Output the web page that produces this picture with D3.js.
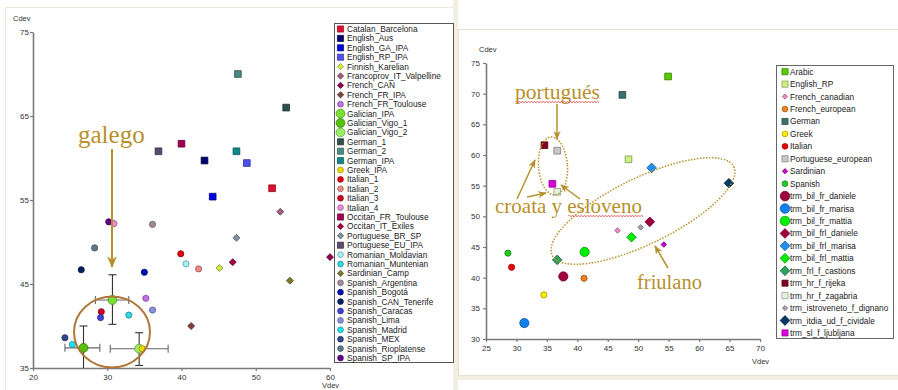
<!DOCTYPE html>
<html><head><meta charset="utf-8">
<script src="https://cdn.jsdelivr.net/npm/d3@7"></script>
<style>body{margin:0;background:#fff}svg{display:block}</style>
</head><body><svg id="c" width="898" height="390"></svg>
<script>
// ---------- LEFT CHART DATA ----------
const leftSeries = ["Catalan_Barcelona","English_Aus","English_GA_IPA","English_RP_IPA","Finnish_Karelian","Francoprov_IT_Valpelline","French_CAN","French_FR_IPA","French_FR_Toulouse","Galician_IPA","Galician_Vigo_1","Galician_Vigo_2","German_1","German_2","German_IPA","Greek_IPA","Italian_1","Italian_2","Italian_3","Italian_4","Occitan_FR_Toulouse","Occitan_IT_Exiles","Portuguese_BR_SP","Portuguese_EU_IPA","Romanian_Moldavian","Romanian_Muntenian","Sardinian_Camp","Spanish_Argentina","Spanish_Bogotá","Spanish_CAN_Tenerife","Spanish_Caracas","Spanish_Lima","Spanish_Madrid","Spanish_MEX","Spanish_Rioplatense","Spanish_SP_IPA"];
const leftVdev = [52.2,43.1,44.2,48.8,45.1,53.3,60.0,41.3,35.2,30.7,26.8,34.3,54.1,47.6,47.4,34.7,39.9,42.3,29.2,30.9,40.0,46.9,47.4,36.9,40.6,32.9,54.6,36.1,35.0,26.5,29.1,36.1,25.3,24.3,28.3,30.2];
const leftCdev = [56.4,59.7,55.4,59.4,46.9,53.6,48.2,40.0,43.3,43.1,37.4,37.3,66.0,70.0,60.8,37.3,48.6,46.8,41.7,52.2,61.7,47.6,50.5,60.8,47.4,41.3,45.4,52.1,46.4,46.7,41.0,41.9,37.8,38.6,49.3,52.4];
// Galician error bars (Vdev low/high, Cdev low/high)
const galSeries = ["Galician_IPA","Galician_Vigo_1","Galician_Vigo_2"];
const galVlo = [28.4,24.3,30.4];
const galVhi = [32.9,29.0,38.2];
const galClo = [40.2,35.0,35.3];
const galChi = [46.1,40.0,39.2];
const leftXTicks = [20,30,40,50,60];
const leftYTicks = [35,45,55,65,75];

// ---------- RIGHT CHART DATA ----------
const rightSeries = ["Arabic","English_RP","French_canadian","French_european","German","Greek","Italian","Portuguese_european","Sardinian","Spanish","trm_bil_fr_daniele","trm_bil_fr_marisa","trm_bil_fr_mattia","trm_bil_frl_daniele","trm_bil_frl_marisa","trm_bil_frl_mattia","trm_frl_f_castions","trm_hr_f_rijeka","trm_hr_f_zagabria","trm_istroveneto_f_dignano","trm_itdia_ud_f_cividale","trm_sl_f_ljubljana"];
const rightVdev = [54.9,48.4,46.6,41.1,47.4,34.5,29.2,36.7,54.2,28.6,37.7,31.3,41.2,51.9,52.2,48.9,36.7,34.6,36.7,50.4,64.9,35.9];
const rightCdev = [72.8,59.3,47.7,39.9,69.8,37.2,41.7,60.7,45.4,44.0,40.2,32.6,44.2,49.1,57.9,46.6,42.9,61.6,54.0,48.2,55.4,55.3];
const rightXTicks = [25,30,35,40,45,50,55,60,65,70];
const rightYTicks = [30,35,40,45,50,55,60,65,70,75];

// ---------- STYLES (separate from data) ----------
const leftShape = ["sq","sq","sq","sq","dm","dm","dm","dm","ci","gc","gc","gc","sq","sq","sq","ci","ci","ci","ci","ci","sq","dm","dm","sq","ci","ci","dm","ci","ci","ci","ci","ci","ci","ci","ci","ci"];
const leftColor = ["#dd1030","#000070","#0000dd","#5050ee","#ccee44","#a06080","#900050","#804040","#c070e8","#77e030","#55c010","#99ee66","#2f4f4f","#4a8a84","#108888","#eedd00","#e00010","#f08888","#cc0020","#ee88dd","#a00050","#a00040","#8090a0","#5a4a70","#a0f0f0","#30d8e0","#7a7a30","#a08c98","#0010b0","#002060","#4040d8","#8890e0","#20e0f0","#304890","#607888","#600088"];
const rightShape = ["sq","sq","sd","ci","sq","ci","ci","sq","sd","ci","bc","bc","bc","bd","bd","bd","bd","sq","sq","sd","bd","sq"];
const rightColor = ["#55cc00","#ccf080","#f088c8","#f08020","#3a7070","#ffee00","#ee0000","#c8c8c8","#cc00cc","#22cc22","#a00040","#1080f0","#00ee00","#a00040","#2090f0","#00ee00","#30a060","#800020","#e4f2dc","#a8a0b0","#003a6a","#dd00dd"];

const svg = d3.select("#c");
const FONT = "Liberation Sans, Arial, sans-serif";
const SERIF = "Liberation Serif, Times New Roman, serif";
const GOLD = "#b8902c";

// ---------- panel frames ----------
svg.append("rect").attr("x",0).attr("y",0).attr("width",898).attr("height",390).attr("fill","#fff");
svg.append("rect").attr("x",453).attr("y",0).attr("width",5).attr("height",390).attr("fill","#f2eee2");
svg.append("path").attr("d","M5.5,390 V7.5 H453").attr("fill","none").attr("stroke","#ebe6d6");
svg.append("rect").attr("x",458.5).attr("y",29.5).attr("width",440).attr("height",346).attr("fill","#fff").attr("stroke","#e6e0cc");
svg.append("rect").attr("x",458).attr("y",376).attr("width",440).attr("height",4).attr("fill","#f2eee2");

function symPath(shape){
  const m = {sq:[d3.symbolSquare,45,0], ci:[d3.symbolCircle,30,0], dm:[d3.symbolSquare,24,45], gc:[d3.symbolCircle,62,0],
             sd:[d3.symbolSquare,15,45], bc:[d3.symbolCircle,66,0], bd:[d3.symbolSquare,46,45]}[shape];
  return {d: d3.symbol().type(m[0]).size(m[1])(), rot: m[2]};
}
function legendSym(shape){
  const m = {sq:[d3.symbolSquare,38,0], ci:[d3.symbolCircle,26,0], dm:[d3.symbolSquare,20,45], gc:[d3.symbolCircle,62,0],
             sd:[d3.symbolSquare,14,45], bc:[d3.symbolCircle,72,0], bd:[d3.symbolSquare,48,45]}[shape];
  return {d: d3.symbol().type(m[0]).size(m[1])(), rot: m[2]};
}
function styleAxis(g){
  g.select(".domain").attr("stroke","#7a7a7a").attr("stroke-width",1.6);
  g.selectAll(".tick line").attr("stroke","#7a7a7a").attr("stroke-width",1.2);
  g.selectAll(".tick text").attr("fill","#333").style("font-family",FONT).style("font-size","8px");
}

// arrow marker
const defs = svg.append("defs");
defs.append("marker").attr("id","arr").attr("viewBox","0 0 10 10").attr("refX",9).attr("refY",5)
  .attr("markerWidth",6).attr("markerHeight",6).attr("orient","auto")
  .append("path").attr("d","M0,1 L10,5 L0,9 L3,5 z").attr("fill",GOLD);

// ---------- LEFT CHART ----------
const xL = d3.scaleLinear([20,60],[33,330]);
const yL = d3.scaleLinear([35,75],[368,32]);
svg.append("g").attr("transform","translate(0,368)")
  .call(d3.axisBottom(xL).tickValues(leftXTicks).tickSize(3).tickSizeOuter(0).tickPadding(3)).call(styleAxis);
svg.append("g").attr("transform","translate(33,0)")
  .call(d3.axisLeft(yL).tickValues(leftYTicks).tickSize(3).tickSizeOuter(0).tickPadding(1)).call(styleAxis);
svg.append("text").attr("x",13).attr("y",21).text("Cdev").style("font-family",FONT).style("font-size","7.5px").attr("fill","#333");
svg.append("text").attr("x",322).attr("y",388).text("Vdev").style("font-family",FONT).style("font-size","7.5px").attr("fill","#333");

// error bars
const eb = svg.append("g").attr("stroke","#333").attr("stroke-width",1.1);
galSeries.forEach((s,i)=>{
  const k = leftSeries.indexOf(s);
  const cx = xL(leftVdev[k]), cy = yL(leftCdev[k]);
  eb.append("line").attr("x1",cx).attr("x2",cx).attr("y1",yL(galClo[i])).attr("y2",yL(galChi[i]));
  eb.append("line").attr("x1",cx-4).attr("x2",cx+4).attr("y1",yL(galChi[i])).attr("y2",yL(galChi[i]));
  if (galClo[i] > 35.05) eb.append("line").attr("x1",cx-4).attr("x2",cx+4).attr("y1",yL(galClo[i])).attr("y2",yL(galClo[i]));
  eb.append("line").attr("x1",xL(galVlo[i])).attr("x2",xL(galVhi[i])).attr("y1",cy).attr("y2",cy).attr("stroke","#666");
  eb.append("line").attr("x1",xL(galVlo[i])).attr("x2",xL(galVlo[i])).attr("y1",cy-4).attr("y2",cy+4).attr("stroke","#666");
  eb.append("line").attr("x1",xL(galVhi[i])).attr("x2",xL(galVhi[i])).attr("y1",cy-4).attr("y2",cy+4).attr("stroke","#666");
});

svg.append("g").selectAll("path").data(leftSeries).join("path")
  .attr("d",(d,i)=>symPath(leftShape[i]).d)
  .attr("transform",(d,i)=>`translate(${xL(leftVdev[i])},${yL(leftCdev[i])}) rotate(${symPath(leftShape[i]).rot})`)
  .attr("fill",(d,i)=>leftColor[i])
  .attr("stroke",(d,i)=>d3.color(leftColor[i]).darker(1.3)).attr("stroke-width",0.8);

// left legend
const lg = svg.append("g");
lg.append("rect").attr("x",334.5).attr("y",23.5).attr("width",119).attr("height",339).attr("fill","#fff").attr("stroke","#555");
leftSeries.forEach((s,i)=>{
  const y = 29 + i*9.4;
  const m = legendSym(leftShape[i]);
  lg.append("path").attr("d",m.d).attr("transform",`translate(340.5,${y}) rotate(${m.rot})`)
    .attr("fill",leftColor[i]).attr("stroke",d3.color(leftColor[i]).darker(1.3)).attr("stroke-width",0.7);
  lg.append("text").attr("x",347).attr("y",y+3).text(s).style("font-family",FONT).style("font-size","8.3px").attr("fill","#222");
});

// left annotations
svg.append("text").attr("x",78).attr("y",143).text("galego").style("font-family",SERIF).style("font-size","25px").attr("fill",GOLD);
svg.append("line").attr("x1",112).attr("y1",149).attr("x2",112).attr("y2",267).attr("stroke",GOLD).attr("stroke-width",2).attr("marker-end","url(#arr)");
svg.append("ellipse").attr("cx",112).attr("cy",332).attr("rx",38).attr("ry",35.5).attr("fill","none").attr("stroke","#b07838").attr("stroke-width",2);

// ---------- RIGHT CHART ----------
const xR = d3.scaleLinear([25,70],[486,760]);
const yR = d3.scaleLinear([30,75],[339,63]);
svg.append("g").attr("transform","translate(0,339)")
  .call(d3.axisBottom(xR).tickValues(rightXTicks).tickSize(3).tickSizeOuter(0).tickPadding(3)).call(styleAxis);
svg.append("g").attr("transform","translate(486,0)")
  .call(d3.axisLeft(yR).tickValues(rightYTicks).tickSize(3).tickSizeOuter(0).tickPadding(3)).call(styleAxis);
svg.append("text").attr("x",479).attr("y",52).text("Cdev").style("font-family",FONT).style("font-size","7.5px").attr("fill","#333");
svg.append("text").attr("x",752).attr("y",364).text("Vdev").style("font-family",FONT).style("font-size","7.5px").attr("fill","#333");

svg.append("g").selectAll("path").data(rightSeries).join("path")
  .attr("d",(d,i)=>symPath(rightShape[i]).d)
  .attr("transform",(d,i)=>`translate(${xR(rightVdev[i])},${yR(rightCdev[i])}) rotate(${symPath(rightShape[i]).rot})`)
  .attr("fill",(d,i)=>rightColor[i])
  .attr("stroke",(d,i)=>d3.color(rightColor[i]).darker(1.3)).attr("stroke-width",0.8);

// right legend
const rg = svg.append("g");
rg.append("rect").attr("x",776.5).attr("y",65.5).attr("width",117).attr("height",273).attr("fill","#fff").attr("stroke","#666");
rightSeries.forEach((s,i)=>{
  const y = 71.7 + i*12.44;
  const m = legendSym(rightShape[i]);
  rg.append("path").attr("d",m.d).attr("transform",`translate(785,${y}) rotate(${m.rot})`)
    .attr("fill",rightColor[i]).attr("stroke",d3.color(rightColor[i]).darker(1.3)).attr("stroke-width",0.7);
  rg.append("text").attr("x",790).attr("y",y+3).text(s).style("font-family",FONT).style("font-size","8.3px").attr("fill","#222");
});

// right annotations
function wavy(x0,x1,y){
  let d = `M${x0},${y}`; let up = true;
  for (let x = x0+1.5; x <= x1; x += 1.5){ d += ` L${x},${y + (up?-1:1)}`; up = !up; }
  svg.append("path").attr("d",d).attr("fill","none").attr("stroke","#e05050").attr("stroke-width",0.7);
}
svg.append("text").attr("x",515).attr("y",99).text("portugués").style("font-family",SERIF).style("font-size","21.5px").attr("fill",GOLD);
wavy(515,600,102);
svg.append("text").attr("x",495).attr("y",213).text("croata y esloveno").style("font-family",SERIF).style("font-size","21px").attr("fill",GOLD);
wavy(568,643,216);
svg.append("text").attr("x",637).attr("y",289).text("friulano").style("font-family",SERIF).style("font-size","20.5px").attr("fill",GOLD);

const arrows = [[557,104,557,139],[517,199,535,160],[527,197,546,193],[580,199,561,185],[668,268,655,246]];
arrows.forEach(a=>svg.append("line").attr("x1",a[0]).attr("y1",a[1]).attr("x2",a[2]).attr("y2",a[3])
  .attr("stroke",GOLD).attr("stroke-width",1.5).attr("marker-end","url(#arr)"));

svg.append("ellipse").attr("cx",0).attr("cy",0).attr("rx",14.5).attr("ry",29)
  .attr("transform","translate(553,166) rotate(-4)").attr("fill","none").attr("stroke",GOLD).attr("stroke-width",1.5).attr("stroke-dasharray","1.5,1.5");
svg.append("ellipse").attr("cx",0).attr("cy",0).attr("rx",101).attr("ry",33)
  .attr("transform","translate(643,211) rotate(-26)").attr("fill","none").attr("stroke",GOLD).attr("stroke-width",1.5).attr("stroke-dasharray","1.5,1.5");
</script></body></html>
